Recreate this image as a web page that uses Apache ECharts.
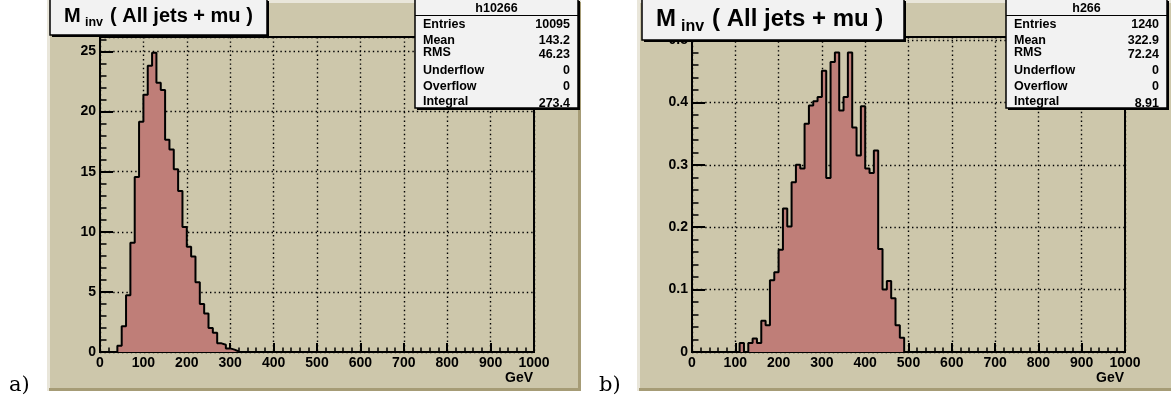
<!DOCTYPE html>
<html>
<head>
<meta charset="utf-8">
<script src="https://cdn.jsdelivr.net/npm/echarts@6/dist/echarts.min.js"></script>
<style>
html,body{margin:0;padding:0;background:#fff;}
#chart{width:1171px;height:404px;}
</style>
</head>
<body>
<div id="chart"></div>
<script>
// ---- data ----
const binWidth = 10; // GeV per bin
const xTickValues = [0, 100, 200, 300, 400, 500, 600, 700, 800, 900, 1000];
// panel a) bin contents, starting at 0 GeV
const valuesA = [0, 0, 0, 0, 0.53, 2.15, 4.72, 9.08, 14.55, 19.15, 21.4, 23.8, 24.9, 22.4, 21.8, 17.65,
  16.85, 15.2, 13.4, 10.4, 8.75, 7.95, 5.8, 4.0, 3.2, 2.0, 1.6, 0.72, 0.6, 0.3, 0.2, 0.05];
// panel b) bin contents, starting at 0 GeV
const valuesB = [0, 0, 0, 0, 0, 0, 0, 0, 0, 0, 0, 0.0144, 0, 0.0144, 0.0215, 0.0144, 0.050, 0.043,
  0.115, 0.128, 0.164, 0.230, 0.201, 0.272, 0.300, 0.294, 0.366, 0.395, 0.402, 0.409, 0.451, 0.279,
  0.465, 0.480, 0.387, 0.409, 0.480, 0.360, 0.315, 0.394, 0.294, 0.287, 0.323, 0.165, 0.100, 0.114,
  0.086, 0.043, 0.023];
const histNames = ["h10266", "h266"];
const statsLabels = ["Entries", "Mean", "RMS", "Underflow", "Overflow", "Integral"];
const statsA = ["10095", "143.2", "46.23", "0", "0", "273.4"];
const statsB = ["1240", "322.9", "72.24", "0", "0", "8.91"];
const titleMain = "M";
const titleSub = "inv";
const titleRest = "( All jets + mu )";
const xAxisTitle = "GeV";
const panelLabels = ["a)", "b)"];

// ---- styling ----
const FONT = '"Liberation Sans", Arial, Helvetica, sans-serif';
const PAD = '#CDC7AB', PAD_LIGHT = '#E9E6DA', PAD_DARK = '#A69C76';
const FILL = '#BF7E78';

function toSteps(vals) {
  const pts = vals.map((v, i) => [i * binWidth, v]);
  pts.push([vals.length * binWidth, 0]);
  return pts;
}

function padEls(x0, x1, y0, y1) {
  const b = 3;
  return [
    {type: 'rect', z: -20, shape: {x: x0, y: y0, width: x1 - x0, height: y1 - y0}, style: {fill: PAD}},
    {type: 'rect', z: -19, shape: {x: x0, y: y0, width: b, height: y1 - y0}, style: {fill: PAD_LIGHT}},
    {type: 'rect', z: -19, shape: {x: x0, y: y0, width: x1 - x0, height: b}, style: {fill: PAD_LIGHT}},
    {type: 'rect', z: -18, shape: {x: x0 + 2, y: y1 - b, width: x1 - x0 - 2, height: b}, style: {fill: PAD_DARK}},
    {type: 'rect', z: -18, shape: {x: x1 - b, y: y0 + 2, width: b, height: y1 - y0 - 2}, style: {fill: PAD_DARK}}
  ];
}

function boxEls(x, y, w, h) {
  return [
    {type: 'rect', z: 100, shape: {x: x + 2, y: y + 2, width: w, height: h}, style: {fill: '#000'}},
    {type: 'rect', z: 101, shape: {x: x, y: y, width: w, height: h}, style: {fill: '#F2F2F2', stroke: '#000', lineWidth: 1.5}}
  ];
}

function txt(x, y, text, size, align, extra) {
  return Object.assign({type: 'text', z: 110, x: x, y: y,
    style: {text: text, fill: '#000', font: 'bold ' + size + 'px ' + FONT, align: align || 'left', verticalAlign: 'middle'}}, extra || {});
}

function titleEls(bx, bw, bh, mx, fs, sx, sfs, sy, rx, my) {
  return boxEls(bx, -1, bw, bh + 1).concat([
    txt(mx, my, titleMain, fs),
    txt(sx, sy, titleSub, sfs),
    txt(rx, my, titleRest, fs)
  ]);
}

function statsEls(x0, x1, name, values) {
  const els = boxEls(x0, -1, x1 - x0, 109);
  els.push({type: 'line', z: 102, shape: {x1: x0, y1: 15.5, x2: x1, y2: 15.5}, style: {stroke: '#000', lineWidth: 1.2}});
  els.push(txt((x0 + x1) / 2, 8.5, name, 12.5, 'center'));
  const ly = [25, 41, 52.5, 70.5, 86.5, 101.5];
  const vy = [25, 41, 55, 70.5, 86.5, 104];
  statsLabels.forEach((l, i) => {
    els.push(txt(x0 + 8, ly[i], l, 12.5, 'left'));
    els.push(txt(x1 - 8, vy[i], values[i], 12.5, 'right'));
  });
  return els;
}

function serifLabel(x, text) {
  return {type: 'text', z: 110, x: x, y: 386,
    style: {text: text, fill: '#000', font: '21px "DejaVu Serif", "Liberation Serif", serif', align: 'left', verticalAlign: 'middle'}};
}

const dotted = {color: '#000', width: 1.4, type: [1.4, 3]};

function xAxis(gi) {
  return {
    type: 'value', gridIndex: gi, min: 0, max: 1000, interval: 100,
    axisLine: {show: true, onZero: false, lineStyle: {color: '#000', width: 2}},
    axisTick: {show: true, inside: true, length: 9, lineStyle: {color: '#000', width: 2}},
    minorTick: {show: true, splitNumber: 5, length: 4.5, lineStyle: {color: '#000', width: 1.5}},
    splitLine: {show: true, lineStyle: dotted},
    axisLabel: {color: '#000', fontFamily: FONT, fontWeight: 'bold', fontSize: 14, margin: 4,
      formatter: v => (xTickValues.indexOf(v) >= 0 ? String(v) : '')}
  };
}
function yAxis(gi, max, interval) {
  return {
    type: 'value', gridIndex: gi, min: 0, max: max, interval: interval,
    axisLine: {show: true, lineStyle: {color: '#000', width: 2}},
    axisTick: {show: true, inside: true, length: 13, lineStyle: {color: '#000', width: 2}},
    minorTick: {show: true, splitNumber: 5, length: 6.5, lineStyle: {color: '#000', width: 1.5}},
    splitLine: {show: true, lineStyle: dotted},
    axisLabel: {color: '#000', fontFamily: FONT, fontWeight: 'bold', fontSize: 14, margin: 4, showMaxLabel: false}
  };
}

const chart = echarts.init(document.getElementById('chart'), null, {renderer: 'canvas'});
const graphics = []
  .concat(padEls(47, 581, 0, 391))
  .concat(padEls(637, 1175, 0, 391))
  .concat(titleEls(50, 217, 35, 64, 20, 85, 12.5, 22.5, 110, 16))
  .concat(titleEls(642, 262, 40, 656, 24, 681, 16, 26.5, 712, 19.5))
  .concat(statsEls(415, 578, histNames[0], statsA))
  .concat(statsEls(1006, 1167, histNames[1], statsB))
  .concat([
    txt(533, 378, xAxisTitle, 14, 'right'),
    txt(1124, 378, xAxisTitle, 14, 'right'),
    serifLabel(9, panelLabels[0]),
    serifLabel(599, panelLabels[1])
  ]);

chart.setOption({
  animation: false,
  backgroundColor: '#ffffff',
  grid: [
    {left: 100, right: 1171 - 534, top: 37, bottom: 52, show: true, backgroundColor: 'transparent', borderColor: '#000', borderWidth: 2},
    {left: 692, right: 1171 - 1125, top: 37, bottom: 52, show: true, backgroundColor: 'transparent', borderColor: '#000', borderWidth: 2}
  ],
  xAxis: [xAxis(0), xAxis(1)],
  yAxis: [yAxis(0, 26.2, 5), yAxis(1, 0.505, 0.1)],
  series: [
    {type: 'line', xAxisIndex: 0, yAxisIndex: 0, step: 'end', symbol: 'none', data: toSteps(valuesA),
      lineStyle: {color: '#000', width: 2}, areaStyle: {color: FILL, opacity: 1}, z: 3},
    {type: 'line', xAxisIndex: 1, yAxisIndex: 1, step: 'end', symbol: 'none', data: toSteps(valuesB),
      lineStyle: {color: '#000', width: 2}, areaStyle: {color: FILL, opacity: 1}, z: 3}
  ],
  graphic: {elements: graphics}
});
</script>
</body>
</html>
